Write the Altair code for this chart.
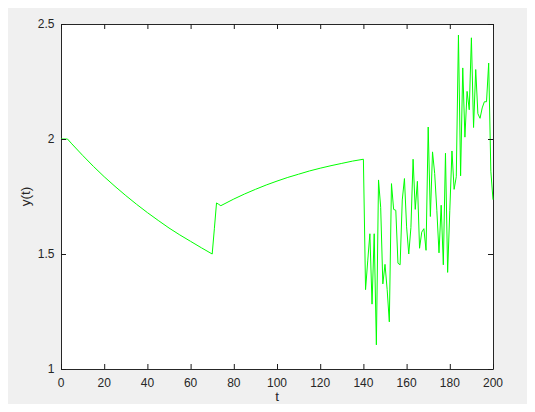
import altair as alt
import pandas as pd

# ---- data ----
t_vals = [0, 1, 2, 3, 5, 10, 15, 20, 25, 30, 35, 40, 45, 50, 55, 60, 65, 70,
          71, 72, 73, 74, 80, 85, 90, 95, 100, 105, 110, 115, 120, 125, 130, 135, 140,
          141, 142, 143, 144, 145, 146, 147, 148, 149, 150,
          151, 152, 153, 154, 155, 156, 157, 158, 159, 160,
          161, 162, 163, 164, 165, 166, 167, 168, 169, 170,
          171, 172, 173, 174, 175, 176, 177, 178, 179, 180,
          181, 182, 183, 184, 185, 186, 187, 188, 189, 190,
          191, 192, 193, 194, 195, 196, 197, 198, 199, 200]
y_vals = [2.0, 2.0, 2.0, 2.0, 1.979, 1.929, 1.881, 1.836, 1.794, 1.754, 1.716, 1.680,
          1.646, 1.613, 1.583, 1.555, 1.527, 1.500,
          1.61, 1.722, 1.716, 1.710, 1.739, 1.761, 1.781, 1.800, 1.817, 1.833, 1.847,
          1.861, 1.873, 1.884, 1.894, 1.904, 1.912,
          1.345, 1.47, 1.588, 1.282, 1.588, 1.105, 1.822, 1.703, 1.370, 1.455,
          1.345, 1.205, 1.806, 1.694, 1.690, 1.460, 1.453, 1.735, 1.828, 1.618,
          1.500, 1.615, 1.912, 1.694, 1.816, 1.525, 1.595, 1.610, 1.516, 2.052,
          1.663, 1.944, 1.850, 1.690, 1.505, 1.712, 1.453, 1.938, 1.420, 1.690,
          1.948, 1.781, 1.836, 2.452, 1.840, 2.309, 2.008, 2.207, 2.127, 2.440,
          2.050, 2.302, 2.110, 2.090, 2.135, 2.162, 2.162, 2.330, 1.860, 1.736]
x_ticks = [0, 20, 40, 60, 80, 100, 120, 140, 160, 180, 200]
y_ticks = [1, 1.5, 2, 2.5]
x_title = "t"
y_title = "y(t)"

W, H = 432, 345
TL = 5
FONT = "Liberation Sans"
TXT = "#262626"

df = pd.DataFrame({"t": t_vals, "y": y_vals})
xs = alt.Scale(domain=[0, 200], nice=False, zero=False)
ys = alt.Scale(domain=[1, 2.5], nice=False, zero=False)

xt = pd.DataFrame({"v": x_ticks})
yt = pd.DataFrame({"w": y_ticks})

line = alt.Chart(df).mark_line(color="#00ff00", strokeWidth=1).encode(
    x=alt.X("t:Q", scale=xs, axis=None),
    y=alt.Y("y:Q", scale=ys, axis=None),
)
bottom_t = alt.Chart(xt).mark_rule(color="#1a1a1a", strokeWidth=1, xOffset=0.5).encode(
    x=alt.X("v:Q", scale=xs, axis=None), y=alt.value(H), y2=alt.value(H - TL))
top_t = alt.Chart(xt).mark_rule(color="#1a1a1a", strokeWidth=1, xOffset=0.5).encode(
    x=alt.X("v:Q", scale=xs, axis=None), y=alt.value(0), y2=alt.value(TL))
left_t = alt.Chart(yt).mark_rule(color="#1a1a1a", strokeWidth=1, yOffset=0.5).encode(
    y=alt.Y("w:Q", scale=ys, axis=None), x=alt.value(0), x2=alt.value(TL))
right_t = alt.Chart(yt).mark_rule(color="#1a1a1a", strokeWidth=1, yOffset=0.5).encode(
    y=alt.Y("w:Q", scale=ys, axis=None), x=alt.value(W), x2=alt.value(W - TL))

x_labels = alt.Chart(xt).mark_text(
    font=FONT, fontSize=12, color=TXT, align="center", baseline="middle").encode(
    x=alt.X("v:Q", scale=xs, axis=None), y=alt.value(H + 13.5),
    text=alt.Text("v:Q", format="~g"))
y_labels = alt.Chart(yt).mark_text(
    font=FONT, fontSize=12, color=TXT, align="right", baseline="middle").encode(
    y=alt.Y("w:Q", scale=ys, axis=None), x=alt.value(-6.5),
    text=alt.Text("w:Q", format="~g"))
x_tt = alt.Chart(pd.DataFrame({"s": [x_title]})).mark_text(
    font=FONT, fontSize=13.5, color=TXT, align="center", baseline="middle").encode(
    x=alt.value(W / 2), y=alt.value(H + 28), text="s:N")
y_tt = alt.Chart(pd.DataFrame({"s": [y_title]})).mark_text(
    font=FONT, fontSize=13.5, color=TXT, align="center", baseline="middle",
    angle=270).encode(
    x=alt.value(-35), y=alt.value(H / 2), text="s:N")

chart = alt.layer(line, x_labels, y_labels, x_tt, y_tt,
                  bottom_t, top_t, left_t, right_t).properties(
    width=W, height=H,
    autosize=alt.AutoSizeParams(type="none"),
    padding={"left": 53, "top": 16, "right": 34, "bottom": 35},
    background="#f0f0f0",
).configure_view(fill="white", stroke=TXT, strokeWidth=1)

chart.save("out.html", embed_options={"renderer": "svg", "actions": False})
